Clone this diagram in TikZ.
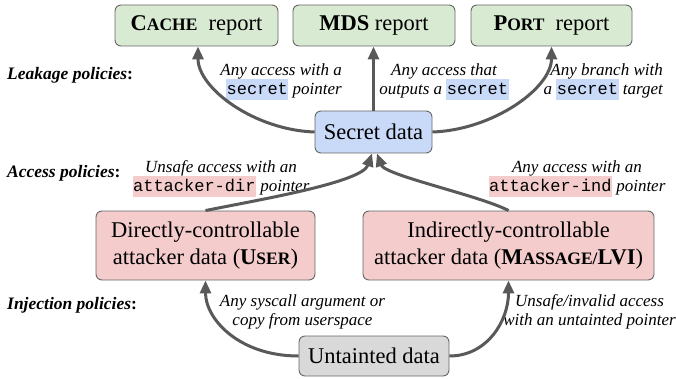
\documentclass[tikz,border=0pt]{standalone}
\usepackage{fontspec}
\setmainfont{Liberation Serif}
\setmonofont{Liberation Mono}
\usetikzlibrary{arrows.meta}
\definecolor{gfill}{HTML}{D9EAD3}
\definecolor{bfill}{HTML}{C9DAF8}
\definecolor{pfill}{HTML}{F4CCCC}
\definecolor{ufill}{HTML}{D9D9D9}
\definecolor{edgecol}{HTML}{666666}
\definecolor{arrcol}{HTML}{595959}
\newcommand{\hlblue}[1]{{\setlength{\fboxsep}{0pt}\colorbox{bfill}{\rule[-5.5pt]{0pt}{21pt}\kern0.5pt\upshape\ttfamily #1\kern0.5pt}}}
\newcommand{\hlpink}[1]{{\setlength{\fboxsep}{0pt}\colorbox{pfill}{\rule[-5.5pt]{0pt}{21pt}\kern0.5pt\upshape\ttfamily #1\kern0.5pt}}}
\newcommand{\mysc}[2]{\textbf{#1{\fontsize{17.5}{20}\selectfont #2}}}
\begin{document}
\begin{tikzpicture}[x=1pt,y=-1pt,
  box/.style={draw=edgecol, line width=0.9pt, rounded corners=6pt, inner sep=0pt,
    align=center, font=\fontsize{22.5}{27}\selectfont},
  lbl/.style={font=\fontsize{17}{19.5}\selectfont\itshape, inner sep=0pt},
  captxt/.style={font=\fontsize{17.5}{20}\selectfont\bfseries, inner sep=0pt, anchor=west},
  conn/.style={draw=arrcol, line width=3pt, -{Triangle[length=13pt,width=11pt]}}]
\useasboundingbox (0,0) rectangle (676,379);

% boxes
\node[box, fill=gfill, minimum width=163pt, minimum height=41pt] (cache) at (196.5,25.5)
  {\mysc{C}{ACHE}\hspace{5.5pt} report};
\node[box, fill=gfill, minimum width=162pt, minimum height=41pt] (mds) at (374,25.5)
  {\textbf{MDS} report};
\node[box, fill=gfill, minimum width=161pt, minimum height=41pt] (port) at (551.5,25.5)
  {\mysc{P}{ORT}\hspace{5.5pt} report};
\node[box, fill=bfill, minimum width=117pt, minimum height=42pt] (secret) at (373.5,132)
  {Secret data};
\node[box, fill=pfill, minimum width=219pt, minimum height=69pt] (direct) at (205.5,245.5)
  {Directly-controllable\\attacker data (\mysc{U}{SER})};
\node[box, fill=pfill, minimum width=291pt, minimum height=69pt] (indirect) at (508.5,245.5)
  {Indirectly-controllable\\attacker data (\textbf{M{\fontsize{17.5}{20}\selectfont ASSAGE/}LVI})};
\node[box, fill=ufill, minimum width=150pt, minimum height=40pt] (untainted) at (374,356)
  {Untainted data};

% captions
\node[captxt] (capleak) at (7,75) {{\itshape Leakage policies}:};
\node[captxt] (capacc) at (7,173) {{\itshape Access policies}:};
\node[captxt] (capinj) at (7,305) {{\itshape Injection policies}:};

% labels
\node[lbl, align=right, anchor=east] (l1) at (342,82) {Any access with a\\\hlblue{secret} pointer};
\node[lbl, align=center] (l2) at (444,82) {Any access that\\outputs a \hlblue{secret}};
\node[lbl, align=right, anchor=east] (l3) at (663,82) {Any branch with\\a \hlblue{secret} target};
\node[lbl, align=center] (l4) at (221,179) {Unsafe access with an\\\hlpink{attacker-dir} pointer};
\node[lbl, align=center] (l5) at (577,179) {Any access with an\\\hlpink{attacker-ind} pointer};
\node[lbl, align=center] (l6) at (302.5,312) {Any syscall argument or\\copy from userspace};
\node[lbl, align=center] (l7) at (589.5,312) {Unsafe/invalid access\\with an untainted pointer};

% connectors
\draw[conn] (secret.west) .. controls +(-60,-2) and +(0,42) .. ([xshift=1.5pt]cache.south);
\draw[conn] (secret.north) -- (secret.north |- mds.south);
\draw[conn] (secret.east) .. controls +(60,-2) and +(0,42) .. (port.south);
\draw[conn] (direct.north) .. controls +(54.5,-11) and +(-10,29) .. ([xshift=-1.5pt]secret.south);
\draw[conn] (indirect.north) .. controls +(-28.5,-15) and +(8,22) .. ([xshift=3.5pt]secret.south);
\draw[conn] (untainted.west) .. controls +(-59,0) and +(0,39) .. (direct.south);
\draw[conn] (untainted.east) .. controls +(38,0) and +(0,40) .. (indirect.south);
\end{tikzpicture}
\end{document}
